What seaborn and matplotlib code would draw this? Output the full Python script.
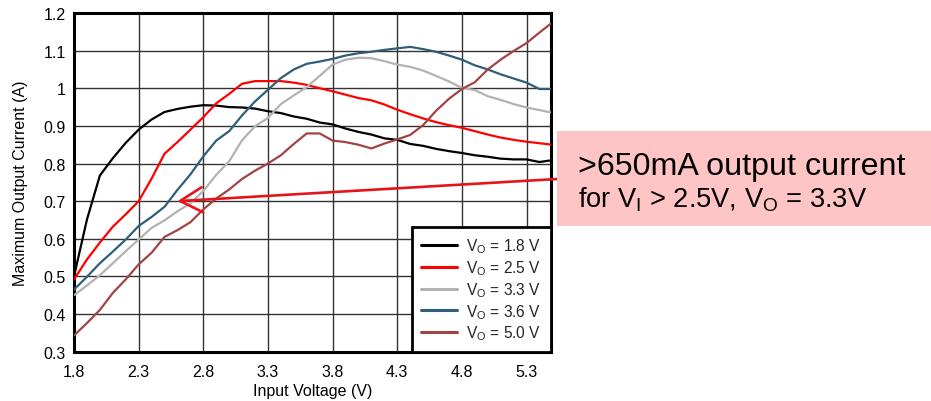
import matplotlib
matplotlib.use("Agg")
import matplotlib.pyplot as plt
import matplotlib.patches as mpatches
import pandas as pd
import seaborn as sns

# Input voltage sweep (V)
vin = [1.8, 1.9, 2.0, 2.1, 2.2, 2.3, 2.4, 2.5, 2.6, 2.7, 2.8, 2.9, 3.0, 3.1, 3.2,
       3.3, 3.4, 3.5, 3.6, 3.7, 3.8, 3.9, 4.0, 4.1, 4.2, 4.3, 4.4, 4.5, 4.6, 4.7,
       4.8, 4.9, 5.0, 5.1, 5.2, 5.3, 5.4, 5.5]

# Maximum output current (A) for each output voltage setting
current_vo_18 = [0.500, 0.651, 0.768, 0.814, 0.855, 0.890, 0.917, 0.937, 0.945, 0.951,
                 0.955, 0.954, 0.950, 0.949, 0.946, 0.939, 0.934, 0.925, 0.919, 0.909,
                 0.904, 0.893, 0.884, 0.877, 0.867, 0.863, 0.852, 0.847, 0.839, 0.833,
                 0.828, 0.822, 0.818, 0.813, 0.811, 0.811, 0.804, 0.809]
current_vo_25 = [0.492, 0.545, 0.590, 0.632, 0.665, 0.700, 0.760, 0.826, 0.857, 0.890,
                 0.923, 0.960, 0.985, 1.012, 1.019, 1.019, 1.019, 1.015, 1.009, 1.000,
                 0.992, 0.983, 0.974, 0.968, 0.957, 0.943, 0.931, 0.920, 0.910, 0.902,
                 0.895, 0.886, 0.877, 0.869, 0.863, 0.858, 0.854, 0.850]
current_vo_33 = [0.450, 0.476, 0.503, 0.535, 0.567, 0.598, 0.629, 0.649, 0.673, 0.694,
                 0.727, 0.770, 0.806, 0.862, 0.899, 0.921, 0.958, 0.981, 1.003, 1.033,
                 1.063, 1.076, 1.081, 1.080, 1.072, 1.063, 1.057, 1.047, 1.033, 1.018,
                 1.001, 0.995, 0.979, 0.969, 0.958, 0.949, 0.942, 0.935]
current_vo_36 = [0.465, 0.499, 0.535, 0.566, 0.598, 0.634, 0.658, 0.685, 0.730, 0.771,
                 0.819, 0.861, 0.886, 0.928, 0.965, 0.996, 1.027, 1.050, 1.065, 1.071,
                 1.078, 1.087, 1.093, 1.097, 1.102, 1.106, 1.110, 1.104, 1.097, 1.087,
                 1.076, 1.061, 1.050, 1.037, 1.026, 1.015, 0.998, 0.998]
current_vo_50 = [0.343, 0.376, 0.411, 0.456, 0.492, 0.532, 0.563, 0.605, 0.623, 0.644,
                 0.678, 0.707, 0.731, 0.759, 0.781, 0.800, 0.822, 0.852, 0.880, 0.880,
                 0.861, 0.857, 0.850, 0.840, 0.853, 0.864, 0.876, 0.902, 0.940, 0.972,
                 0.998, 1.016, 1.050, 1.076, 1.099, 1.120, 1.148, 1.175]

series_labels = [r"V$_\mathrm{O}$ = 1.8 V", r"V$_\mathrm{O}$ = 2.5 V",
                 r"V$_\mathrm{O}$ = 3.3 V", r"V$_\mathrm{O}$ = 3.6 V",
                 r"V$_\mathrm{O}$ = 5.0 V"]
series_values = [current_vo_18, current_vo_25, current_vo_33, current_vo_36, current_vo_50]
series_colors = ["#000000", "#ff0000", "#b2b2b2", "#2f5f78", "#a24444"]

x_ticks = [1.8, 2.3, 2.8, 3.3, 3.8, 4.3, 4.8, 5.3]
y_ticks = [0.3, 0.4, 0.5, 0.6, 0.7, 0.8, 0.9, 1.0, 1.1, 1.2]

frames = [pd.DataFrame({"vin": vin, "iout": vals, "curve": lab})
          for lab, vals in zip(series_labels, series_values)]
df = pd.concat(frames, ignore_index=True)

sns.set_theme(style="white")
plt.rcParams["font.family"] = ["Liberation Sans", "DejaVu Sans"]
plt.rcParams["mathtext.fontset"] = "custom"
plt.rcParams["mathtext.rm"] = "Liberation Sans"
plt.rcParams["mathtext.it"] = "Liberation Sans:italic"

fig = plt.figure(figsize=(9.31, 4.02), dpi=100)
ax = fig.add_axes([74 / 931, 1 - 352.7 / 402, (550.7 - 74) / 931, (352.7 - 14) / 402])

sns.lineplot(data=df, x="vin", y="iout", hue="curve", hue_order=series_labels,
             palette=series_colors, linewidth=1.6, ax=ax, sort=False, zorder=3)

ax.set_xlim(1.8, 5.487)
ax.set_ylim(0.3, 1.2)
ax.set_xticks(x_ticks)
ax.set_xticklabels([f"{t:g}" for t in x_ticks])
ax.set_yticks(y_ticks)
ax.set_yticklabels([f"{t:g}" for t in y_ticks])
ax.tick_params(axis="x", length=0, labelsize=11.5, colors="#000000", pad=9)
ax.tick_params(axis="y", length=0, labelsize=11.5, colors="#000000", pad=6)
ax.grid(True, color="#333333", linewidth=1.0)
ax.set_axisbelow(True)
for sp in ax.spines.values():
    sp.set_color("#000000")
    sp.set_linewidth(2.2)
    sp.set_visible(True)

ax.set_xlabel("Input Voltage (V)", fontsize=11.5, color="#000000", labelpad=3)
ax.set_ylabel("Maximum Output Current (A)", fontsize=11.5, color="#000000", labelpad=11)

leg = ax.legend(loc="lower right", borderaxespad=0, fontsize=11.2, frameon=True,
                fancybox=False, framealpha=1, edgecolor="#000000",
                handlelength=2.3, labelspacing=0.2, borderpad=0.6, handletextpad=0.6)
leg.get_frame().set_linewidth(2.0)
for h in leg.get_lines():
    h.set_linewidth(2.2)
leg.set_zorder(6)

# Callout arrow pointing at the 3.3 V curve
ax.annotate("", xy=(2.6, 0.70), xycoords="data",
            xytext=(557 / 931, 1 - 180 / 402), textcoords="figure fraction",
            arrowprops=dict(arrowstyle="->,head_length=0.8,head_width=0.45",
                            color="#e5141b", lw=1.9, mutation_scale=20,
                            shrinkA=0, shrinkB=0),
            annotation_clip=False, zorder=5)

# Callout box
box = mpatches.Rectangle((557 / 931, 1 - 227 / 402), 1 - 557 / 931, 95 / 402,
                         transform=fig.transFigure, facecolor="#ffc4c4",
                         edgecolor="none", zorder=10)
fig.add_artist(box)
fig.text(578 / 931, 1 - 175 / 402, ">650mA output current", fontsize=23.2,
         color="#000000", va="baseline", ha="left", zorder=11)
fig.text(578 / 931, 1 - 207 / 402,
         r"for V$_\mathrm{I}$ > 2.5V, V$_\mathrm{O}$ = 3.3V", fontsize=19.6,
         color="#000000", va="baseline", ha="left", zorder=11)

fig.savefig("out.png", dpi=100)
